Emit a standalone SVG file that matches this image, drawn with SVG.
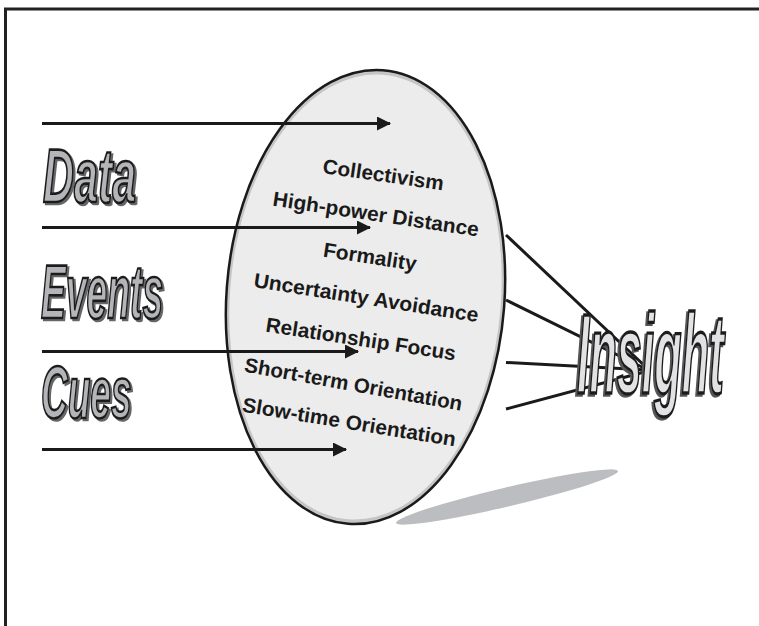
<svg xmlns="http://www.w3.org/2000/svg" width="759" height="626" viewBox="0 0 759 626">
  <defs>
    <marker id="ah" viewBox="0 0 14 14" refX="13" refY="7" markerWidth="14" markerHeight="14" markerUnits="userSpaceOnUse" orient="auto">
      <path d="M0,0 L14,7 L0,14 Z" fill="#1a1a1a"/>
    </marker>
    <filter id="sh" x="-10%" y="-10%" width="130%" height="130%">
      <feOffset in="SourceAlpha" dx="2.5" dy="1.5" result="o"/>
      <feFlood flood-color="#666666"/>
      <feComposite in2="o" operator="in" result="s"/>
      <feMerge><feMergeNode in="s"/><feMergeNode in="SourceGraphic"/></feMerge>
    </filter>
    <filter id="shi" x="-10%" y="-10%" width="130%" height="130%">
      <feOffset in="SourceAlpha" dx="-3.5" dy="1.2" result="o"/>
      <feFlood flood-color="#555555"/>
      <feComposite in2="o" operator="in" result="s"/>
      <feMerge><feMergeNode in="s"/><feMergeNode in="SourceGraphic"/></feMerge>
    </filter>
  </defs>
  <style>
    .frame { fill: none; stroke: #222; stroke-width: 3; }
    .arrow { stroke: #1a1a1a; stroke-width: 3; fill: none; }
    .ray { stroke: #1a1a1a; stroke-width: 3; fill: none; }
    .lbl { font-family: "Liberation Sans", Arial, sans-serif; font-weight: bold; font-size: 20.5px; fill: #1a1a1a; }
    .big { font-family: "Liberation Sans", Arial, sans-serif; font-weight: bold; font-style: italic; }
    .bigfg { fill: #b4b5b8; stroke: #1e1e1e; stroke-width: 1.8; filter: url(#sh); }
    .insfg { fill: #e2e2e4; stroke: #1e1e1e; stroke-width: 1.9; filter: url(#shi); }
  </style>
  <rect width="759" height="626" fill="#ffffff"/>
  <path class="frame" d="M5.5,626 L5.5,9 L759,9"/>

  <g id="shadow">
    <ellipse cx="507" cy="497" rx="114" ry="9.5" transform="rotate(-13.2 507 497)" fill="#bcbdc0"/>
  </g>

  <g id="ellipse">
    <g transform="translate(365.5 297) rotate(4.4)">
      <ellipse cx="0" cy="0" rx="139" ry="227.5" fill="#c4c5c7"/>
      <ellipse cx="0" cy="0" rx="135.5" ry="223" fill="#ececec"/>
      <ellipse cx="0" cy="0" rx="139" ry="227.5" fill="none" stroke="#1a1a1a" stroke-width="2.5"/>
    </g>
    <text class="lbl" transform="translate(322 173) rotate(8.2)" textLength="122" lengthAdjust="spacingAndGlyphs">Collectivism</text>
    <text class="lbl" transform="translate(272 205.5) rotate(8.6)" textLength="208" lengthAdjust="spacingAndGlyphs">High-power Distance</text>
    <text class="lbl" transform="translate(322.5 256.5) rotate(8.7)" textLength="94" lengthAdjust="spacingAndGlyphs">Formality</text>
    <text class="lbl" transform="translate(253 287) rotate(8.9)" textLength="227" lengthAdjust="spacingAndGlyphs">Uncertainty Avoidance</text>
    <text class="lbl" transform="translate(265 331.5) rotate(8.7)" textLength="192" lengthAdjust="spacingAndGlyphs">Relationship Focus</text>
    <text class="lbl" transform="translate(243.5 371.5) rotate(10.2)" textLength="221" lengthAdjust="spacingAndGlyphs">Short-term Orientation</text>
    <text class="lbl" transform="translate(241.5 411.5) rotate(9.3)" textLength="216" lengthAdjust="spacingAndGlyphs">Slow-time Orientation</text>
  </g>

  <g id="connectors">
    <line class="arrow" x1="42" y1="123.5" x2="390" y2="123.5" marker-end="url(#ah)"/>
    <line class="arrow" x1="42" y1="227.5" x2="370" y2="227.5" marker-end="url(#ah)"/>
    <line class="arrow" x1="42" y1="351.5" x2="358" y2="351.5" marker-end="url(#ah)"/>
    <line class="arrow" x1="42" y1="449.5" x2="346" y2="449.5" marker-end="url(#ah)"/>
    <line class="ray" x1="506" y1="235" x2="648" y2="369"/>
    <line class="ray" x1="506" y1="300" x2="648" y2="370"/>
    <line class="ray" x1="506" y1="362.5" x2="648" y2="370"/>
    <line class="ray" x1="506" y1="409" x2="648" y2="371"/>
  </g>

  <g id="data">
    <text class="big bigfg" transform="translate(43 201.5) scale(0.86 1.52)" font-size="50">Data</text>
  </g>
  <g id="events">
    <text class="big bigfg" transform="translate(41 318) scale(0.745 1.52)" font-size="50">Events</text>
  </g>
  <g id="cues">
    <text class="big bigfg" transform="translate(41 418) scale(0.74 1.48)" font-size="50">Cues</text>
  </g>
  <g id="insight">
    <text class="big insfg" transform="translate(577 393) scale(0.69 1.74)" font-size="65">Insight</text>
  </g>
</svg>
